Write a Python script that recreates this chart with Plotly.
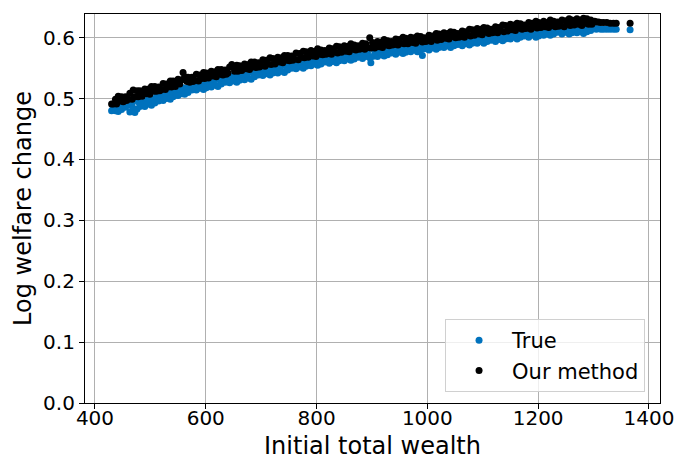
import plotly.graph_objects as go

wealth = [
    430, 433, 437, 439, 442, 446, 448, 451, 455, 457,
    460, 463, 467, 469, 472, 476, 478, 481, 485, 487,
    490, 493, 497, 499, 502, 506, 508, 511, 515, 517,
    520, 523, 527, 529, 532, 536, 538, 541, 545, 547,
    550, 553, 557, 559, 562, 566, 568, 571, 575, 577,
    580, 583, 587, 589, 592, 596, 598, 601, 605, 607,
    610, 613, 617, 619, 622, 626, 628, 631, 635, 637,
    640, 643, 647, 649, 652, 656, 658, 661, 665, 667,
    670, 673, 677, 679, 682, 686, 688, 691, 695, 697,
    700, 703, 707, 709, 712, 716, 718, 721, 725, 727,
    730, 733, 737, 739, 742, 746, 748, 751, 755, 757,
    760, 763, 767, 769, 772, 776, 778, 781, 785, 787,
    790, 793, 797, 799, 802, 806, 808, 811, 815, 817,
    820, 823, 827, 829, 832, 836, 838, 841, 845, 847,
    850, 853, 857, 859, 862, 866, 868, 871, 875, 877,
    880, 883, 887, 889, 892, 896, 898, 901, 905, 907,
    910, 913, 917, 919, 922, 926, 928, 931, 935, 937,
    940, 943, 947, 949, 952, 956, 958, 961, 965, 967,
    970, 973, 977, 979, 982, 986, 988, 991, 995, 997,
    1000, 1003, 1007, 1009, 1012, 1016, 1018, 1021, 1025, 1027,
    1030, 1033, 1037, 1039, 1042, 1046, 1048, 1051, 1055, 1057,
    1060, 1063, 1067, 1069, 1072, 1076, 1078, 1081, 1085, 1087,
    1090, 1093, 1097, 1099, 1102, 1106, 1108, 1111, 1115, 1117,
    1120, 1123, 1127, 1129, 1132, 1136, 1138, 1141, 1145, 1147,
    1150, 1153, 1157, 1159, 1162, 1166, 1168, 1171, 1175, 1177,
    1180, 1183, 1187, 1189, 1192, 1196, 1198, 1201, 1205, 1207,
    1210, 1213, 1217, 1219, 1222, 1226, 1228, 1231, 1235, 1237,
    1240, 1243, 1247, 1249, 1252, 1256, 1258, 1261, 1265, 1267,
    1270, 1273, 1277, 1279, 1282, 1286, 1288, 1291, 1295, 1297,
    1302, 1305, 1309, 1313, 1318, 1324, 1330, 1336, 1341, 1366,
]

true_change = [
    .480, .486, .480, .490, .479, .489, .482, .492, .486, .494,
    .489, .478, .493, .484, .477, .483, .495, .487, .496, .490,
    .487, .497, .491, .500, .489, .499, .493, .503, .496, .504,
    .505, .497, .509, .500, .507, .499, .511, .503, .512, .506,
    .505, .515, .508, .518, .507, .517, .510, .520, .514, .521,
    .522, .514, .525, .517, .523, .515, .527, .518, .528, .521,
    .519, .529, .522, .532, .520, .530, .524, .533, .527, .534,
    .534, .526, .537, .529, .535, .527, .539, .530, .540, .533,
    .531, .541, .534, .544, .532, .542, .536, .545, .539, .546,
    .546, .538, .549, .541, .547, .539, .550, .542, .551, .545,
    .542, .552, .545, .555, .543, .553, .547, .556, .550, .557,
    .557, .549, .560, .552, .558, .550, .561, .553, .562, .556,
    .554, .563, .557, .566, .555, .564, .557, .567, .560, .568,
    .567, .558, .570, .561, .568, .559, .570, .562, .571, .565,
    .562, .571, .565, .574, .563, .572, .565, .575, .568, .576,
    .575, .566, .578, .569, .575, .567, .559, .569, .578, .572,
    .569, .578, .572, .581, .570, .579, .572, .582, .575, .583,
    .582, .573, .585, .576, .582, .574, .585, .576, .585, .579,
    .577, .586, .580, .589, .577, .587, .580, .571, .582, .590,
    .589, .580, .592, .583, .590, .581, .592, .584, .593, .587,
    .584, .593, .587, .596, .584, .594, .587, .596, .589, .597,
    .596, .587, .599, .590, .597, .588, .599, .591, .600, .594,
    .591, .600, .594, .603, .591, .601, .594, .603, .596, .604,
    .603, .594, .606, .597, .604, .595, .606, .598, .607, .601,
    .598, .607, .601, .610, .598, .608, .601, .610, .603, .611,
    .610, .601, .612, .604, .610, .601, .612, .603, .613, .606,
    .604, .613, .606, .616, .604, .613, .606, .615, .609, .616,
    .615, .606, .617, .609, .615, .606, .617, .608, .618, .611,
    .608, .617, .610, .619, .607, .617, .610, .619, .612, .619,
    .615, .614, .615, .614, .614, .614, .614, .614, .614, .613,
]

method_change = [
    .491, .491, .499, .491, .504, .496, .503, .495, .503, .497,
    .499, .509, .499, .514, .503, .513, .503, .513, .504, .512,
    .516, .508, .516, .507, .520, .512, .520, .512, .519, .513,
    .515, .525, .515, .524, .519, .529, .519, .529, .520, .528,
    .532, .524, .531, .543, .536, .528, .535, .527, .535, .528,
    .530, .540, .529, .539, .533, .543, .533, .542, .534, .541,
    .545, .537, .544, .536, .548, .540, .548, .539, .547, .540,
    .542, .552, .556, .551, .545, .555, .545, .554, .546, .553,
    .557, .549, .556, .548, .560, .552, .560, .551, .559, .552,
    .554, .564, .553, .563, .557, .567, .556, .566, .557, .565,
    .568, .560, .567, .559, .571, .563, .571, .562, .570, .563,
    .565, .575, .564, .574, .568, .578, .567, .577, .568, .576,
    .579, .570, .578, .569, .582, .573, .580, .572, .579, .573,
    .574, .583, .573, .582, .577, .586, .575, .585, .576, .584,
    .587, .578, .586, .577, .590, .581, .588, .580, .587, .581,
    .582, .591, .581, .590, .584, .600, .583, .592, .583, .591,
    .594, .585, .593, .584, .597, .588, .595, .587, .594, .588,
    .589, .598, .588, .597, .591, .601, .590, .599, .590, .598,
    .601, .592, .600, .591, .603, .595, .602, .593, .600, .594,
    .595, .604, .594, .603, .598, .607, .596, .606, .597, .605,
    .608, .599, .607, .598, .610, .602, .609, .600, .607, .601,
    .602, .611, .601, .610, .605, .614, .603, .613, .604, .612,
    .615, .606, .614, .605, .617, .609, .616, .607, .614, .608,
    .609, .618, .608, .617, .612, .621, .610, .620, .611, .619,
    .622, .613, .621, .612, .624, .616, .623, .614, .621, .615,
    .616, .625, .614, .624, .618, .627, .616, .625, .617, .624,
    .627, .618, .625, .617, .629, .620, .627, .618, .626, .619,
    .620, .629, .618, .628, .622, .631, .620, .629, .621, .628,
    .631, .622, .629, .620, .632, .624, .631, .622, .629, .622,
    .627, .626, .626, .625, .625, .625, .624, .624, .624, .624,
]

x_ticks = [400, 600, 800, 1000, 1200, 1400]
y_ticks = [0.0, 0.1, 0.2, 0.3, 0.4, 0.5, 0.6]

FONT = "DejaVu Sans"

fig = go.Figure()
fig.add_trace(go.Scatter(
    x=wealth, y=true_change, mode="markers", name="True",
    marker=dict(color="#0072BD", size=7, line=dict(width=0)),
))
fig.add_trace(go.Scatter(
    x=wealth, y=method_change, mode="markers", name="Our method",
    marker=dict(color="black", size=7, line=dict(width=0)),
))

axis_common = dict(
    showline=True, linecolor="black", linewidth=1.2, mirror=True,
    ticks="outside", ticklen=5, tickcolor="black", tickwidth=1,
    showgrid=True, gridcolor="#b0b0b0", gridwidth=1,
    zeroline=False, automargin=False,
    tickfont=dict(family=FONT, size=20, color="black"),
)

fig.update_layout(
    width=675, height=462,
    margin=dict(l=85, r=15, t=14, b=59),
    paper_bgcolor="white", plot_bgcolor="white",
    font=dict(family=FONT, color="black"),
    xaxis=dict(range=[382, 1420], tickvals=x_ticks, ticklabelstandoff=-8,
               title=dict(text="Initial total wealth", font=dict(family=FONT, size=24), standoff=8),
               **axis_common),
    yaxis=dict(range=[0, 0.639], tickvals=y_ticks, tickformat=".1f",
               title=dict(text="Log welfare change", font=dict(family=FONT, size=24), standoff=4),
               **axis_common),
    legend=dict(x=0.974, y=0.028, xanchor="right", yanchor="bottom",
                bgcolor="rgba(255,255,255,0.8)", bordercolor="#d0d0d0", borderwidth=1,
                font=dict(family=FONT, size=21, color="black"),
                itemsizing="trace", itemwidth=56),
    showlegend=True,
)

fig.write_html("out.html")
